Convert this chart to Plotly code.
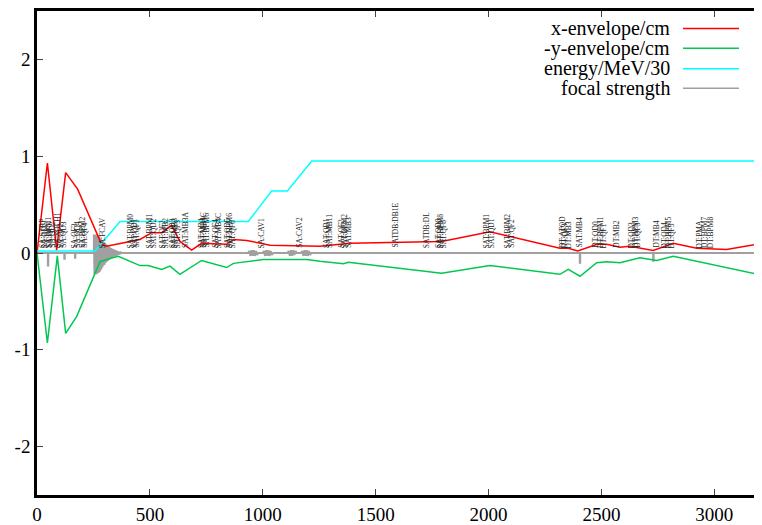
import plotly.graph_objects as go

# ---------------- data ----------------
x_env_s = [0, 46, 87, 127, 180, 286, 308, 456, 508, 552, 596, 633, 685, 729, 840, 870, 929,
           1032, 1253, 1364, 1386, 1792, 2006, 2316, 2353, 2395, 2480, 2523, 2582, 2626,
           2729, 2818, 2922, 3054, 3211]
x_env_v = [0.0, 0.93, 0.03, 0.83, 0.66, 0.09, 0.07, 0.14, 0.21, 0.21, 0.285, 0.12, 0.03, 0.10,
           0.09, 0.14, 0.13, 0.08, 0.07, 0.10, 0.10, 0.12, 0.22, 0.05, 0.05, 0.02, 0.09, 0.09,
           0.06, 0.07, 0.025, 0.10, 0.05, 0.035, 0.10]

y_env_s = [0, 46, 90, 127, 176, 279, 308, 360, 456, 493, 552, 589, 633, 729, 840, 870, 1002,
           1194, 1253, 1357, 1379, 1792, 2006, 2316, 2353, 2405, 2479, 2523, 2582, 2670,
           2744, 2818, 3211]
y_env_v = [0.0, -0.93, -0.03, -0.83, -0.655, -0.09, -0.067, -0.033, -0.13, -0.13, -0.17,
           -0.135, -0.22, -0.077, -0.15, -0.107, -0.067, -0.067, -0.085, -0.11, -0.095,
           -0.21, -0.13, -0.22, -0.17, -0.24, -0.10, -0.09, -0.10, -0.05, -0.077, -0.033,
           -0.23]

energy_s = [0, 257, 368, 936, 1039, 1109, 1217, 3211]
energy_v = [0.02, 0.02, 0.325, 0.325, 0.64, 0.64, 0.95, 0.95]

focal_s = [0, 48, 48, 50, 50, 121, 121, 123, 123, 168, 168, 170, 170,
           252, 252, 254.5, 257, 259.5, 262, 264.5, 267, 269.5, 272, 274.5, 277, 279.5,
           282, 284.5, 287, 289.5, 292, 294.5, 297, 299.5, 302, 304.5, 307, 309.5, 312,
           314.5, 317, 319.5, 322, 324.5, 327, 329.5, 332, 334.5, 337, 339.5, 342, 344.5,
           347, 349.5, 352, 354.5, 357, 359.5, 362, 364.5, 367, 369.5, 372, 376,
           935, 940, 945, 950, 955, 960, 965, 970, 975, 980,
           1000, 1005, 1010, 1015, 1020, 1025, 1030, 1035, 1040, 1046,
           1110, 1115, 1120, 1125, 1130, 1135, 1140, 1145, 1150,
           1170, 1175, 1180, 1185, 1190, 1195, 1200, 1205, 1210, 1215,
           2404, 2404, 2406, 2406, 2729, 2729, 2731, 2731, 3211]
focal_k = [0, 0, -0.13, -0.13, 0, 0, -0.06, -0.06, 0, 0, -0.05, -0.05, 0,
           0, 0.19, -0.22, 0.19, -0.22, 0.19, -0.22, 0.18, -0.21, 0.18, -0.2, 0.17, -0.19,
           0.15, -0.17, 0.13, -0.15, 0.12, -0.13, 0.11, -0.12, 0.10, -0.10, 0.09, -0.09, 0.08,
           -0.08, 0.07, -0.07, 0.06, -0.06, 0.05, -0.05, 0.045, -0.045, 0.04, -0.04, 0.035,
           -0.035, 0.03, -0.03, 0.025, -0.025, 0.02, -0.02, 0.015, -0.015, 0.01, -0.01, 0.005, 0,
           0, 0.02, -0.03, 0.03, -0.03, 0.03, -0.03, 0.02, -0.02, 0,
           0, 0.02, -0.03, 0.03, -0.03, 0.03, -0.03, 0.02, -0.02, 0,
           0, 0.02, -0.03, 0.03, -0.03, 0.03, -0.02, 0.02, 0,
           0, 0.02, -0.03, 0.03, -0.03, 0.03, -0.03, 0.02, -0.02, 0,
           0, -0.10, -0.10, 0, 0, -0.08, -0.08, 0, 0]

label_s = [22, 35, 49, 58, 71, 93, 106, 120, 168, 182, 199, 213, 292, 416, 430, 443, 500, 514,
           558, 571, 598, 611, 624, 655, 726, 740, 753, 793, 806, 841, 855, 868, 996, 1165,
           1280, 1293, 1351, 1364, 1382, 1590, 1723, 1776, 1789, 1802, 1993, 2011, 2086, 2104,
           2325, 2338, 2356, 2405, 2476, 2493, 2511, 2569, 2635, 2648, 2662, 2746, 2781, 2795,
           2812, 2936, 2954, 2981]
label_names = ["SA:STRP", "SA:QD1", "SA:BPM1", "SA:QF1", "SA:QD2", "SA:SOLH1", "SA:QF2",
               "SA:QD3", "SA:QF3", "SA:QD4", "SA:BPM2", "SA:QF4", "SA:FCAV",
               "SAT:BPM0", "SAT:QD1", "SAT:QF1", "SAT:BPM1", "SAT:QD2", "SAT:QF2", "SAT:MB2",
               "SAT:QD3", "SAT:MB3", "SAT:QF3", "SAT:MB3A", "SAT:QD4", "SAT:MB4C", "SAT:BPM6",
               "SAT:QF4", "SAT:MB4C", "SAT:QD5", "SAT:BPM6", "SAT:QF6", "SA:CAV1", "SA:CAV2",
               "SAT:QD1", "SAT:MB11", "SAT:QF2", "SAT:BPM2", "SAT:MB3", "SATDB:DB1E",
               "SATDB:DL", "SAT:QD8", "SAT:BPM8", "SAT:QF8", "SAT:BPM1", "SAT:QD1", "SAT:BPM2",
               "SAT:QF2", "DT:ATQD", "DT:QF3", "DT:MB3", "SAT:MB4", "DT:QD0", "DT:BPM1",
               "DT:QF1", "DT:MB2", "DT:QD3", "DT:BPM3", "DT:QF3", "DT:MB4", "DT:QD4",
               "DT:BPM5", "DT:QF5", "DT:PMA", "DT:BPM7", "DT:BPM8"]

legend_names = ["x-envelope/cm", "-y-envelope/cm", "energy/MeV/30", "focal strength"]
legend_colors = ["#ff0000", "#00c850", "#00ffff", "#a0a0a0"]

x_ticks = [0, 500, 1000, 1500, 2000, 2500, 3000]
y_ticks = [-2, -1, 0, 1, 2]
y_tick_text = ["-2", "-1", "0", "1", "2"]
x_range = [0, 3211]
y_range = [-2.5, 2.5]

# ---------------- figure ----------------
# page body has an 8px default margin: figure sits at (8, 8)
FONT = "Liberation Serif, Times New Roman, serif"
W, H = 754, 517
ML, MR, MT, MB = 29, 0, 0, 22
PW, PH = W - ML - MR, H - MT - MB

fig = go.Figure()

fig.add_trace(go.Scatter(x=focal_s, y=focal_k, mode="lines", name=legend_names[3],
                         line=dict(color=legend_colors[3], width=2), showlegend=False))
fig.add_trace(go.Scatter(x=x_env_s, y=x_env_v, mode="lines", name=legend_names[0],
                         line=dict(color=legend_colors[0], width=1.5), showlegend=False))
fig.add_trace(go.Scatter(x=y_env_s, y=y_env_v, mode="lines", name=legend_names[1],
                         line=dict(color=legend_colors[1], width=1.5), showlegend=False))
fig.add_trace(go.Scatter(x=energy_s, y=energy_v, mode="lines", name=legend_names[2],
                         line=dict(color=legend_colors[2], width=1.5), showlegend=False))
# right-side mirrored ticks (no line)
fig.add_trace(go.Scatter(x=[None], y=[None], yaxis="y2", showlegend=False))

annotations = []
for s, name in zip(label_s, label_names):
    annotations.append(dict(x=s, y=0.03, xref="x", yref="y", text=name, showarrow=False,
                            textangle=-90, xanchor="center", yanchor="bottom",
                            font=dict(family=FONT, size=7.5, color="#222222")))

shapes = []
row_y = [26, 46, 67, 87]          # window pixel rows of legend entries
for i, (nm, col) in enumerate(zip(legend_names, legend_colors)):
    yp = 1 - (row_y[i] - 8 - MT) / PH
    annotations.append(dict(x=(672 - 8 - ML) / PW, y=yp, xref="paper", yref="paper",
                            text=nm, showarrow=False, xanchor="right", yanchor="middle",
                            font=dict(family=FONT, size=20, color="black")))
    shapes.append(dict(type="line", xref="paper", yref="paper",
                       x0=(683 - 8 - ML) / PW, x1=(739 - 8 - ML) / PW, y0=yp, y1=yp,
                       line=dict(color=col, width=1.5)))

fig.update_layout(
    width=W, height=H,
    margin=dict(l=ML, r=MR, t=MT, b=MB, pad=0),
    plot_bgcolor="white", paper_bgcolor="white",
    font=dict(family=FONT, size=19, color="black"),
    showlegend=False,
    annotations=annotations, shapes=shapes,
    xaxis=dict(range=x_range, tickvals=x_ticks, ticks="inside", ticklen=6, tickwidth=1,
               showgrid=False, zeroline=False, showline=True, linecolor="black",
               linewidth=2.5, mirror="ticks", tickfont=dict(family=FONT, size=19)),
    yaxis=dict(range=y_range, tickvals=y_ticks, ticktext=y_tick_text, ticks="inside",
               ticklen=6, tickwidth=1, showgrid=False, zeroline=False, showline=True,
               linecolor="black", linewidth=2.5, tickfont=dict(family=FONT, size=19)),
    yaxis2=dict(range=y_range, tickvals=y_ticks, ticks="inside", ticklen=6, tickwidth=1,
                overlaying="y", side="right", showticklabels=False, showgrid=False,
                zeroline=False, showline=False, tickcolor="black"),
)

fig.write_html("out.html")
